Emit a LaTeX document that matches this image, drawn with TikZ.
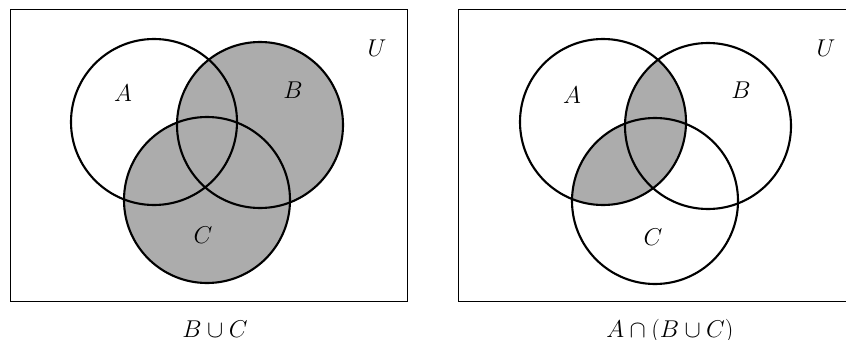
\documentclass[tikz,border=0pt]{standalone}
\usepackage{amsmath}
\usepackage{amssymb}
\usetikzlibrary{calc}

\begin{document}
\begin{tikzpicture}[x=0.03cm,y=-0.03cm,font=\fontsize{20}{24}\selectfont]
\def\rad{83}
\useasboundingbox (0,0) rectangle (846,340);
% left picture: B cup C
\coordinate (LA) at (154,122);
\coordinate (LB) at (260,125);
\coordinate (LC) at (207,200);
% right picture: A cap (B cup C)
\coordinate (RA) at (603,122);
\coordinate (RB) at (708,126);
\coordinate (RC) at (655,201);
\fill[gray!65] (LB) circle (\rad) (LC) circle (\rad);
\begin{scope}
  \clip (RA) circle (\rad);
  \fill[gray!65] (RB) circle (\rad) (RC) circle (\rad);
\end{scope}
\draw[line width=0.8pt] (10,9) rectangle (407,301);
\draw[line width=0.8pt] (458,9) rectangle (850,301);
\foreach \P in {LA,LB,LC,RA,RB,RC}{
  \draw[line width=1.8pt] (\P) circle (\rad);
}
\foreach \n/\px/\py/\lab in {lA/123/93/A,lB/293/90/B,lC/203/235/C,lU/377/48/U,
                            rA/572/95/A,rB/741/90/B,rC/653/237/C,rU/826/48/U}{
  \node (\n) at (\px,\py) {$\lab$};
}
\node[anchor=base] (capL) at (215,337) {$B\cup C$};
\node[anchor=base] (capR) at (670,337) {$A\cap(B\cup C)$};
\end{tikzpicture}
\end{document}
